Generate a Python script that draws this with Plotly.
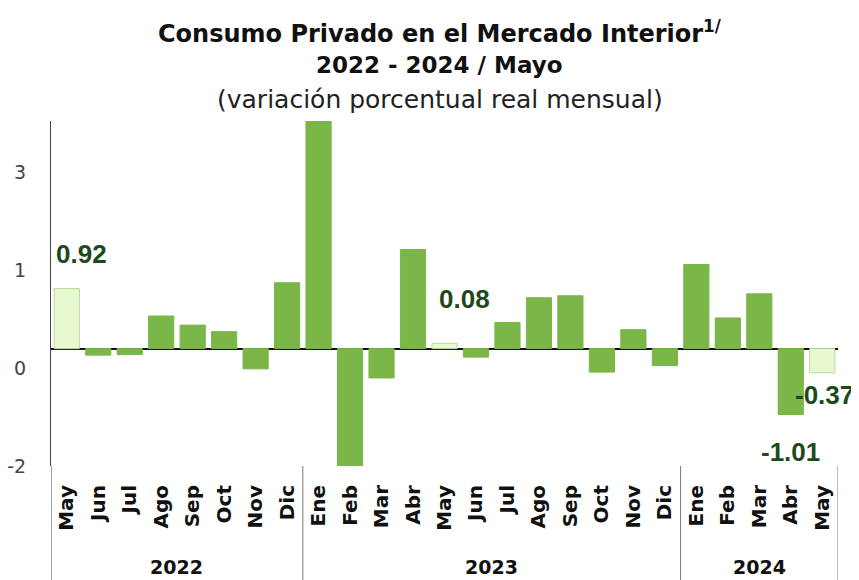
import plotly.graph_objects as go

months = ["May", "Jun", "Jul", "Ago", "Sep", "Oct", "Nov", "Dic",
          "Ene", "Feb", "Mar", "Abr", "May", "Jun", "Jul", "Ago", "Sep", "Oct", "Nov", "Dic",
          "Ene", "Feb", "Mar", "Abr", "May"]
years = ["2022", "2023", "2024"]
year_counts = [8, 12, 5]
values = [0.92, -0.10, -0.09, 0.50, 0.36, 0.26, -0.31, 1.01,
          3.49, -1.80, -0.45, 1.52, 0.08, -0.13, 0.40, 0.78, 0.81, -0.36, 0.29, -0.26,
          1.29, 0.47, 0.84, -1.01, -0.37]
highlight = [0, 12, 24]
labeled = {0: "0.92", 12: "0.08", 23: "-1.01", 24: "-0.37"}
ytick_vals = [-1.8, -0.3, 1.2, 2.7]
ytick_text = ["-2", "0", "1", "3"]

GREEN = "#7ab648"
LIGHT = "#e8f9d2"
LABEL = "#1d4a1d"

# page body has an 8px margin: figure is laid out in page pixels minus 8
OFF = 8
W, H = 851, 572
L, R, T, B = 51 - OFF, W - (838.5 - OFF), 121 - OFF, H - (466 - OFF)
PH = H - T - B

def py(ref_pix):
    return (H - B - (ref_pix - OFF)) / PH

def px(ref_pix):
    return (ref_pix - OFF - L) / (W - L - R)

x = list(range(len(values)))
colors = [LIGHT if i in highlight else GREEN for i in x]
lines = ["#b9d99a" if i in highlight else GREEN for i in x]

fig = go.Figure(go.Bar(x=x, y=values, marker=dict(color=colors, line=dict(color=lines, width=1)),
                       width=0.8, hoverinfo="skip"))

fig.update_layout(
    width=W, height=H,
    margin=dict(l=L, r=R, t=T, b=B, autoexpand=False),
    paper_bgcolor="white", plot_bgcolor="white",
    showlegend=False,
    font=dict(family="DejaVu Sans", color="#222"),
)
fig.update_xaxes(range=[-0.5, len(values) - 0.5], tickvals=x, ticktext=months, automargin=False,
                 tickangle=-90, tickfont=dict(family="DejaVu Sans", size=20, color="#111", weight="bold"),
                 ticks="", showline=False, showgrid=False, zeroline=False, ticklabelstandoff=14)
fig.update_yaxes(range=[-1.8, 3.49], tickvals=ytick_vals, ticktext=ytick_text, automargin=False,
                 tickfont=dict(family="DejaVu Sans", size=19, color="#444"),
                 showgrid=False, showline=True, linecolor="#444", linewidth=1,
                 zeroline=True, zerolinecolor="#111", zerolinewidth=1.5, ticks="", ticklabelstandoff=20)

# group separators and axis extension
bounds = [0]
for c in year_counts:
    bounds.append(bounds[-1] + c)
fig.add_shape(type="line", xref="x", yref="paper", x0=-0.5, x1=-0.5, y0=0, y1=-0.4,
              line=dict(color="#444", width=1))
for b in bounds[1:]:
    fig.add_shape(type="line", xref="x", yref="paper", x0=b - 0.5, x1=b - 0.5, y0=0, y1=-0.4,
                  line=dict(color="#777", width=1))
for i, yr in enumerate(years):
    cx = (bounds[i] + bounds[i + 1] - 1) / 2
    fig.add_annotation(x=cx, y=py(567), xref="x", yref="paper", text=yr, showarrow=False,
                       font=dict(family="DejaVu Sans", size=19, color="#111", weight="bold"),
                       yanchor="middle")

# value labels
lf = dict(family="Liberation Sans", size=26, color=LABEL, weight="bold")
for i, txt in labeled.items():
    v = values[i]
    if i == 0:
        fig.add_annotation(x=i - 0.42, y=v, text=txt, showarrow=False, xanchor="left",
                           yanchor="bottom", yshift=18, font=lf)
    elif i == 12:
        fig.add_annotation(x=i - 0.25, y=v, text=txt, showarrow=False, xanchor="left",
                           yanchor="bottom", yshift=27, font=lf)
    elif i == 23:
        fig.add_annotation(x=i, y=v, text=txt, showarrow=False, xanchor="center",
                           yanchor="top", yshift=-21, font=lf)
    else:
        fig.add_annotation(x=i + 0.08, y=v, text=txt, showarrow=False, xanchor="center",
                           yanchor="top", yshift=-5, font=lf)

# titles
tx = px(440)
fig.add_annotation(x=tx, y=py(32), xref="paper", yref="paper", yanchor="middle", showarrow=False,
                   text="Consumo Privado en el Mercado Interior<sup>1/</sup>",
                   font=dict(family="DejaVu Sans", size=24, color="#111", weight="bold"))
fig.add_annotation(x=tx, y=py(65), xref="paper", yref="paper", yanchor="middle", showarrow=False,
                   text="2022 - 2024 / Mayo",
                   font=dict(family="DejaVu Sans", size=23, color="#111", weight="bold"))
fig.add_annotation(x=tx, y=py(99), xref="paper", yref="paper", yanchor="middle", showarrow=False,
                   text="(variación porcentual real mensual)",
                   font=dict(family="DejaVu Sans", size=25, color="#222"))

fig.write_html("out.html")
